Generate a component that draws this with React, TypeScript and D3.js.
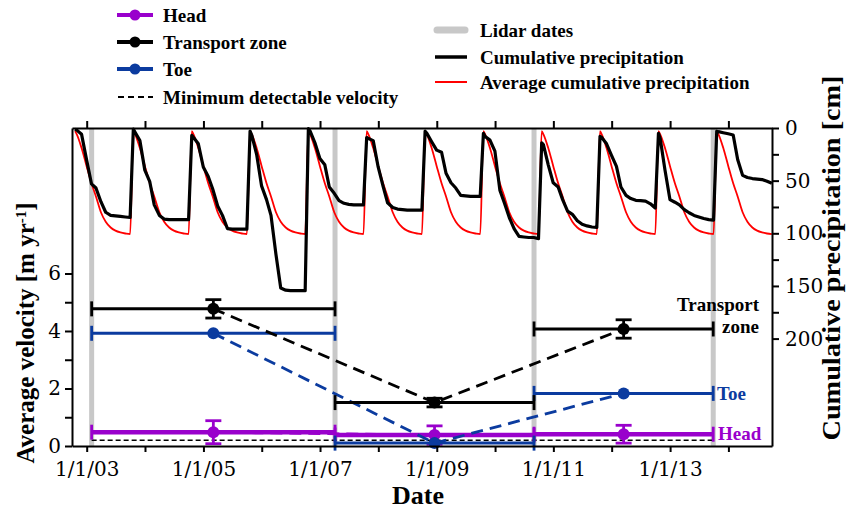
import React, { useEffect, useRef } from 'react';
import * as d3 from 'd3';

// water years (Oct -> Sep) of the precipitation record
const waterYears = [2003, 2004, 2005, 2006, 2007, 2008, 2009, 2010, 2011, 2012, 2013, 2014];
// sample dates inside each water year: [month index, day]
const sampleDays: [number, number][] = [
  [9, 20], [9, 31], [10, 30], [11, 31], [0, 31], [1, 28], [2, 31],
  [3, 30], [4, 31], [5, 30], [6, 31], [7, 31], [8, 30],
];
// cumulative precipitation [cm], one row per water year
const cumPrecip: number[][] = [
  [1, 2, 6, 30, 53, 57, 70, 80, 83, 83.5, 84, 84.5, 85],
  [1, 4, 12, 40, 51, 73, 83, 86.5, 87, 87, 87, 87, 87],
  [7, 9, 15, 37, 46, 58, 74, 83, 95.5, 96, 96, 96, 96],
  [3, 7, 25, 55, 68, 83, 120, 152, 154, 154.5, 154.5, 154.5, 154.5],
  [0.5, 3, 14, 29, 35, 56, 62, 69, 71.5, 72.5, 73, 73, 73],
  [9, 10, 12, 37, 55.5, 71, 75.5, 77, 77.5, 78, 78, 78, 78],
  [3, 5, 13, 21, 23, 43, 52, 57, 64, 64.5, 65, 65, 65],
  [5, 8, 11.5, 22, 59, 71, 85, 95.5, 103, 103.5, 104, 104, 105],
  [14, 16, 35, 52, 56, 68, 79, 82, 88, 91.5, 93, 94, 94.5],
  [8, 9, 15, 26, 36.5, 56, 64, 67, 68.7, 69, 69.5, 72, 76],
  [5, 10, 40, 68, 70.5, 73, 77.5, 80.5, 83, 84.5, 86, 87, 87.5],
  [3, 3.5, 4.5, 5.5, 6.6, 30, 45, 47, 48, 48.5, 49, 50.5, 52.5],
];
// average cumulative precipitation [cm] over a water year
const avgPrecip = [3, 6, 19, 36, 52.5, 65, 80, 89, 94.5, 97.5, 99.2, 100.2, 100.8];

const lidarDates = [new Date(2003, 1, 1), new Date(2007, 3, 5), new Date(2010, 8, 2), new Date(2013, 8, 28)];

const transportV = [4.77, 1.51, 4.07];
const transportErr = [0.32, 0.15, 0.32];
const toeV = [3.92, 0.1, 1.83];
const toeErr = [0, 0, 0];
const headV = [0.48, 0.38, 0.41];
const headErr = [0.4, 0.32, 0.31];
const minDetectable = 0.2;

const yearTicks = d3.range(2003, 2015).map(y => new Date(y, 0, 1));
const velTicks = [0, 1, 2, 3, 4, 5, 6];
const precipTicks = [0, 25, 50, 75, 100, 125, 150, 175, 200];

const PURPLE = '#9900cc';
const BLUE = '#0b3b9f';
const GRAY = '#c8c8c8';
const FONT = '"Liberation Serif", serif';
const TICK_FONT = '"DejaVu Serif", serif';

const left = 72, right = 772, top = 128, bottom = 446;

const x = d3.scaleTime().domain([new Date(2002, 9, 1), new Date(2014, 9, 1)]).range([left, right]);
const yVel = d3.scaleLinear().domain([0, 11.06]).range([bottom, top]);
const yCm = d3.scaleLinear().domain([0, 302]).range([top, bottom]);

type P = { date: Date; v: number };

const dateFor = (wy: number, i: number) => {
  const [m, d] = sampleDays[i];
  return new Date(m >= 9 ? wy - 1 : wy, m, d);
};

const observed: P[] = waterYears.flatMap((wy, k) => cumPrecip[k].map((v, i) => ({ date: dateFor(wy, i), v })));
const average: P[] = waterYears.flatMap(wy => avgPrecip.map((v, i) => ({ date: dateFor(wy, i), v })));

const precipLine = d3.line<P>().x(d => x(d.date)).y(d => yCm(d.v));
const avgLine = d3.line<P>().x(d => x(d.date)).y(d => yCm(d.v)).curve(d3.curveMonotoneX);

const midDates = [0, 1, 2].map(i => new Date((lidarDates[i].getTime() + lidarDates[i + 1].getTime()) / 2));

const Series = ({ values, errs, color, width }: { values: number[]; errs: number[]; color: string; width: number }) => {
  const conn = d3.line<number>().x((_, i) => x(midDates[i])).y(v => yVel(v));
  return (
    <g>
      <path d={conn(values) || ''} fill="none" stroke={color} strokeWidth={2.8} strokeDasharray="12,7" />
      {values.map((v, i) => {
        const x1 = x(lidarDates[i]), x2 = x(lidarDates[i + 1]), y = yVel(v), xm = x(midDates[i]);
        return (
          <g key={i}>
            <line x1={x1} x2={x2} y1={y} y2={y} stroke={color} strokeWidth={width} />
            <line x1={x1} x2={x1} y1={y - 7.5} y2={y + 7.5} stroke={color} strokeWidth={2.8} />
            <line x1={x2} x2={x2} y1={y - 7.5} y2={y + 7.5} stroke={color} strokeWidth={2.8} />
            {errs[i] > 0 && (
              <g stroke={color} strokeWidth={2.8}>
                <line x1={xm} x2={xm} y1={yVel(v + errs[i])} y2={yVel(v - errs[i])} />
                <line x1={xm - 8} x2={xm + 8} y1={yVel(v + errs[i])} y2={yVel(v + errs[i])} />
                <line x1={xm - 8} x2={xm + 8} y1={yVel(v - errs[i])} y2={yVel(v - errs[i])} />
              </g>
            )}
            <circle cx={xm} cy={y} r={6} fill={color} />
          </g>
        );
      })}
    </g>
  );
};

const LegendMarker = ({ y, color, label }: { y: number; color: string; label: string }) => (
  <g>
    <line x1={117} x2={153} y1={y} y2={y} stroke={color} strokeWidth={4} />
    <circle cx={135} cy={y} r={5.5} fill={color} />
    <text x={163} y={y + 6.5} fontSize={19} fontWeight="bold">{label}</text>
  </g>
);

const App = () => {
  const bottomRef = useRef<SVGGElement>(null);
  const topRef = useRef<SVGGElement>(null);
  const leftRef = useRef<SVGGElement>(null);
  const rightRef = useRef<SVGGElement>(null);

  useEffect(() => {
    const style = (g: d3.Selection<SVGGElement, unknown, null, undefined>) => {
      g.attr('font-family', TICK_FONT).attr('font-size', 20);
      g.selectAll('path, line').attr('stroke', '#000').attr('stroke-width', 2);
      g.selectAll('text').attr('fill', '#000');
    };
    d3.select(bottomRef.current!)
      .call(d3.axisBottom(x).tickValues(yearTicks).tickSize(6).tickSizeOuter(0).tickPadding(10)
        .tickFormat(d => {
          const yr = (d as Date).getFullYear();
          return yr % 2 === 1 ? `1/1/${String(yr % 100).padStart(2, '0')}` : '';
        }))
      .call(style);
    d3.select(topRef.current!)
      .call(d3.axisTop(x).tickValues(yearTicks).tickSize(7).tickSizeOuter(0).tickFormat(() => ''))
      .call(style);
    d3.select(leftRef.current!)
      .call(d3.axisLeft(yVel).tickValues(velTicks).tickSize(7).tickSizeOuter(0).tickPadding(4)
        .tickFormat(d => ((d as number) % 2 === 0 ? String(d) : '')))
      .call(style);
    d3.select(rightRef.current!)
      .call(d3.axisRight(yCm).tickValues(precipTicks).tickSize(7).tickSizeOuter(0).tickPadding(6)
        .tickFormat(d => ((d as number) % 50 === 0 ? String(d) : '')))
      .call(style);
  }, []);

  return (
    <div style={{ position: 'absolute', left: 0, top: 0 }}>
      <svg width={848} height={511} style={{ display: 'block', background: '#fff' }} fontFamily={FONT}>
        {lidarDates.map((d, i) => (
          <line key={i} x1={x(d)} x2={x(d)} y1={top} y2={bottom} stroke={GRAY} strokeWidth={5} />
        ))}
        <path d={avgLine(average) || ''} fill="none" stroke="#ff0000" strokeWidth={1.8} />
        <path d={precipLine(observed) || ''} fill="none" stroke="#000" strokeWidth={3.2} strokeLinejoin="round" />

        <line x1={x(lidarDates[0])} x2={x(lidarDates[3])} y1={yVel(minDetectable)} y2={yVel(minDetectable)}
          stroke="#000" strokeWidth={1.6} strokeDasharray="5,3" />

        <Series values={headV} errs={headErr} color={PURPLE} width={4.5} />
        <Series values={toeV} errs={toeErr} color={BLUE} width={3} />
        <Series values={transportV} errs={transportErr} color="#000" width={3} />

        <g ref={bottomRef} transform={`translate(0,${bottom})`} />
        <g ref={topRef} transform={`translate(0,${top})`} />
        <g ref={leftRef} transform={`translate(${left},0)`} />
        <g ref={rightRef} transform={`translate(${right},0)`} />

        <text fontSize={19} fontWeight="bold" textAnchor="end">
          <tspan x={759} y={311}>Transport</tspan>
          <tspan x={759} y={333}>zone</tspan>
        </text>
        <text x={717} y={400} fontSize={19} fontWeight="bold" fill={BLUE}>Toe</text>
        <text x={718} y={440} fontSize={19} fontWeight="bold" fill={PURPLE}>Head</text>

        <text x={418} y={504} fontSize={26} fontWeight="bold" textAnchor="middle">Date</text>
        <text transform="translate(34,333) rotate(-90)" fontSize={25} fontWeight="bold" textAnchor="middle">
          Average velocity [m yr<tspan baselineShift="super" fontSize={15}>-1</tspan>]
        </text>
        <text transform="translate(840,258) rotate(-90)" fontSize={25} fontWeight="bold" textAnchor="middle"
          textLength={365} lengthAdjust="spacingAndGlyphs">
          Cumulative precipitation [cm]
        </text>

        <LegendMarker y={15} color={PURPLE} label="Head" />
        <LegendMarker y={42} color="#000" label="Transport zone" />
        <LegendMarker y={69} color={BLUE} label="Toe" />
        <line x1={118} x2={153} y1={97} y2={97} stroke="#000" strokeWidth={2} strokeDasharray="6,4" />
        <text x={163} y={103.5} fontSize={19} fontWeight="bold">Minimum detectable velocity</text>

        <line x1={437} x2={465} y1={30} y2={30} stroke={GRAY} strokeWidth={7} strokeLinecap="round" />
        <text x={480} y={36.5} fontSize={19} fontWeight="bold">Lidar dates</text>
        <line x1={435} x2={467} y1={57} y2={57} stroke="#000" strokeWidth={3.5} />
        <text x={480} y={63.5} fontSize={19} fontWeight="bold">Cumulative precipitation</text>
        <line x1={435} x2={467} y1={82} y2={82} stroke="#ff0000" strokeWidth={2} />
        <text x={480} y={88.5} fontSize={19} fontWeight="bold">Average cumulative precipitation</text>
      </svg>
    </div>
  );
};

export default App;
